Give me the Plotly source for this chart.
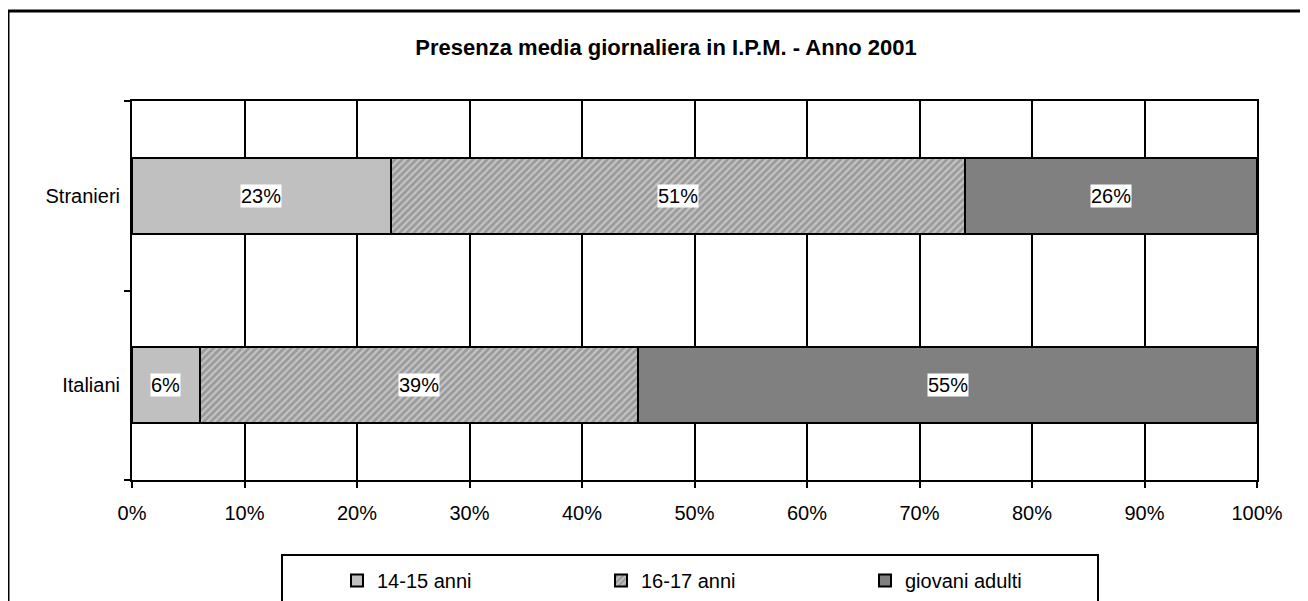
import plotly.graph_objects as go

categories = ["Italiani", "Stranieri"]
series_names = ["14-15 anni", "16-17 anni", "giovani adulti"]
v_14_15 = [0.06, 0.23]
v_16_17 = [0.39, 0.51]
v_adulti = [0.55, 0.26]
x_ticks = [i / 10 for i in range(11)]

OFF = 8  # page body margin
W, H = 1300, 650
# plot area in page coords: x 132..1257, y 101..480
L = 132 - OFF
T = 101 - OFF
R = W - (1257 - OFF)
B = H - (480 - OFF)
pw, ph = W - L - R, H - T - B

def px_x(p):  # page x -> paper
    return (p - OFF - L) / pw

def px_y(p):  # page y -> paper
    return (H - B - (p - OFF)) / ph

FONT = "Liberation Sans, Arial, sans-serif"
FS = 20

fig = go.Figure()
values = [v_14_15, v_16_17, v_adulti]
colors = ["#C0C0C0", "#A6A6A6", "#808080"]
for i, (name, vals) in enumerate(zip(series_names, values)):
    marker = dict(color=colors[i], line=dict(color="black", width=2))
    if i == 1:
        marker["pattern"] = dict(shape="/", bgcolor="#9A9A9A", fgcolor="#C4C4C4",
                                 size=5, solidity=0.45, fillmode="replace")
    fig.add_trace(go.Bar(name=name, y=categories, x=vals, orientation="h",
                         marker=marker, hoverinfo="skip"))

# value labels with white background
for cat_i, cat in enumerate(categories):
    cum = 0.0
    for vals in values:
        v = vals[cat_i]
        fig.add_annotation(x=cum + v / 2, y=cat, text=f"{round(v*100)}%",
                           showarrow=False, bgcolor="white", borderpad=0,
                           font=dict(family=FONT, size=FS, color="black"))
        cum += v

fig.update_layout(
    barmode="stack",
    bargap=0.6,
    width=W, height=H,
    margin=dict(l=L, r=R, t=T, b=B, pad=0),
    paper_bgcolor="white", plot_bgcolor="white",
    font=dict(family=FONT, size=FS, color="black"),
    title=dict(text="<b>Presenza media giornaliera in I.P.M. - Anno 2001</b>",
               x=(666 - OFF) / W, xanchor="center", y=1 - (47 - OFF) / H,
               yanchor="middle",
               font=dict(family=FONT, size=22, color="black")),
    showlegend=True,
    legend=dict(orientation="h", x=px_x(337), xanchor="left",
                y=px_y(561), yanchor="top",
                borderwidth=0, bgcolor="rgba(0,0,0,0)",
                itemwidth=30, entrywidth=219, entrywidthmode="pixels",
                font=dict(family=FONT, size=FS, color="black"),
                traceorder="normal"),
    xaxis=dict(range=[0, 1], tickvals=x_ticks, tickformat=".0%",
               showgrid=True, gridcolor="black", gridwidth=2,
               showline=True, linecolor="black", linewidth=2, mirror=True,
               ticks="outside", ticklen=6, tickcolor="black", tickwidth=2,
               ticklabelstandoff=8,
               zeroline=False, fixedrange=True,
               tickfont=dict(family=FONT, size=FS, color="black")),
    yaxis=dict(categoryorder="array", categoryarray=categories,
               showline=True, linecolor="black", linewidth=2, mirror=True,
               ticks="outside", tickson="boundaries", ticklen=6,
               tickcolor="black", tickwidth=2, showgrid=False,
               ticklabelstandoff=6, fixedrange=True,
               tickfont=dict(family=FONT, size=FS, color="black")),
)

# outer chart border
fig.add_shape(type="rect", xref="paper", yref="paper",
              x0=px_x(8), y0=px_y(700), x1=px_x(1360), y1=px_y(11),
              line=dict(color="black", width=3), fillcolor="rgba(0,0,0,0)",
              layer="below")
# legend box
fig.add_shape(type="rect", xref="paper", yref="paper",
              x0=px_x(282), y0=px_y(680), x1=px_x(1098), y1=px_y(555),
              line=dict(color="black", width=2), fillcolor="rgba(0,0,0,0)",
              layer="below")

fig.write_html("out.html")
